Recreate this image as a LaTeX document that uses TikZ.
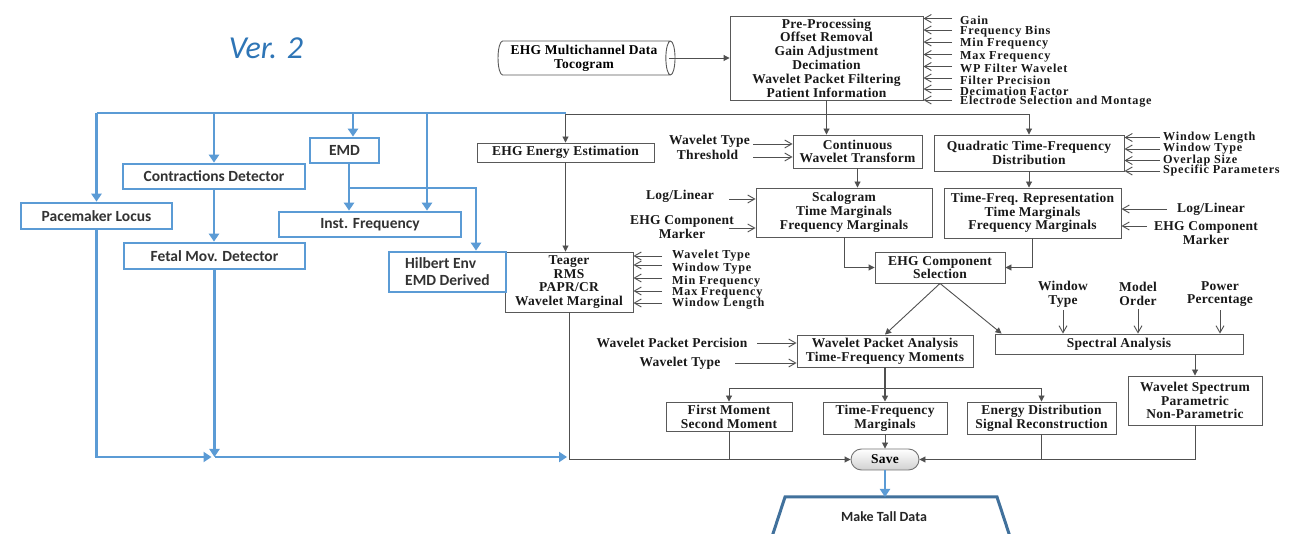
\documentclass[tikz,border=0pt]{standalone}
\usepackage{fontspec}
\newfontfamily\tnrfam{Liberation Serif}[LetterSpace=2]
\newfontfamily\tnrwide{Liberation Serif}[LetterSpace=6]
\newfontfamily\calfam{Carlito}
\usetikzlibrary{arrows.meta,shapes.geometric,shapes.misc}
\definecolor{bl}{HTML}{5B9BD5}
\definecolor{bld}{HTML}{41719C}
\definecolor{vercol}{HTML}{2E75B6}
\definecolor{ln}{HTML}{505050}
\newcommand\gfont{\tnrfam\bfseries\fontsize{13.5}{13.8}\selectfont}
\newcommand\sfontg{\tnrwide\bfseries\fontsize{12.2}{13}\selectfont}
\newcommand\bfontb{\calfam\bfseries\fontsize{15.5}{17}\selectfont}
\begin{document}
\begin{tikzpicture}[x=1pt,y=-1pt,
 gbox/.style={draw=black!65, line width=0.9pt, fill=white, align=center, inner sep=0pt, font=\gfont, text=black!90},
 bbox/.style={draw=bl, line width=2.6pt, fill=white, align=center, inner sep=0pt, font=\bfontb, text=black!80},
 lab/.style={inner sep=0pt, font=\gfont, align=center, text=black!90},
 slab/.style={lab, font=\sfontg},
 con/.style={draw=ln, line width=0.9pt},
 arr/.style={con, -{Triangle[length=6pt,width=6pt]}},
 inarr/.style={con, -{Straight Barb[length=7pt,width=8pt]}},
 bcon/.style={draw=bl, line width=2.6pt},
 barr/.style={bcon, -{Triangle[length=8pt,width=10pt]}},
]
\useasboundingbox (0,0) rectangle (1294,534);
\clip (0,0) rectangle (1294,534);
\fill[white] (0,0) rectangle (1294,534);

\node[font=\calfam\itshape\fontsize{32}{36}\selectfont, text=vercol, inner sep=0pt] (ver) at (266,48) {Ver. 2};

% ---------- processing chain ----------
\node[cylinder, draw=black!65, line width=0.9pt, fill=white, shape aspect=0.35, minimum width=34, minimum height=177, font=\gfont, align=center, inner sep=0pt] (cyl) at (584,58) {EHG Multichannel Data\\Tocogram};
\node[gbox, minimum width=193, minimum height=84] (pre) at (826.5,58) {Pre-Processing\\Offset Removal\\Gain Adjustment\\Decimation\\Wavelet Packet Filtering\\Patient Information};
\node[gbox, minimum width=177, minimum height=19] (eee) at (565.5,152.5) {EHG Energy Estimation};
\node[gbox, minimum width=129, minimum height=33] (cwt) at (857.5,151.5) {Continuous\\Wavelet Transform};
\node[gbox, minimum width=190, minimum height=36] (qtf) at (1029,153) {Quadratic Time-Frequency\\Distribution};
\node[gbox, minimum width=176, minimum height=49] (scal) at (844,212.5) {Scalogram\\Time Marginals\\Frequency Marginals};
\node[gbox, minimum width=177, minimum height=50] (tfr) at (1032.5,213) {Time-Freq. Representation\\Time Marginals\\Frequency Marginals};
\node[gbox, minimum width=130, minimum height=31] (ecs) at (940,267.5) {EHG Component\\Selection};
\node[gbox, minimum width=128, minimum height=60] (teag) at (569,282) {Teager\\RMS\\PAPR/CR\\Wavelet Marginal};
\node[gbox, minimum width=176, minimum height=32] (wpa) at (885,351) {Wavelet Packet Analysis\\Time-Frequency Moments};
\node[gbox, minimum width=248, minimum height=20] (spec) at (1119,344) {Spectral Analysis};
\node[gbox, minimum width=134, minimum height=49] (wsp) at (1195,400.5) {Wavelet Spectrum\\Parametric\\Non-Parametric};
\node[gbox, minimum width=126, minimum height=29] (fm) at (729,416.5) {First Moment\\Second Moment};
\node[gbox, minimum width=124, minimum height=32] (tfm) at (885,418) {Time-Frequency\\Marginals};
\node[gbox, minimum width=149, minimum height=32] (edist) at (1041.5,418) {Energy Distribution\\Signal Reconstruction};
\node[rounded rectangle, draw=black!55, line width=0.9pt, top color=white, bottom color=black!18, minimum width=68, minimum height=21, inner sep=0pt, font=\gfont] (save) at (885,459.5) {Save};

% ---------- parameter labels ----------
\node[slab, anchor=west] (pi1) at (960,20.5) {Gain};
\node[slab, anchor=west] (pi2) at (960,32) {Frequency Bins};
\node[slab, anchor=west] (pi3) at (960,44) {Min Frequency};
\node[slab, anchor=west] (pi4) at (960,56.5) {Max Frequency};
\node[slab, anchor=west] (pi5) at (960,68.5) {WP Filter Wavelet};
\node[slab, anchor=west] (pi6) at (960,80) {Filter Precision};
\node[slab, anchor=west] (pi7) at (960,91) {Decimation Factor};
\node[slab, anchor=west] (pi8) at (960,102) {Electrode Selection and Montage};
\foreach \n in {pi1,pi2,pi3,pi4,pi5,pi6,pi7,pi8}{
  \path ([xshift=-8pt,yshift=2pt]\n.west) coordinate (t);
  \draw[inarr] (t) -- (pre.east |- t);
}

\node[lab] (cw1) at (709.5,141) {Wavelet Type};
\node[lab] (cw2) at (707.5,155) {Threshold};
\coordinate (cw1s) at (753,144);
\coordinate (cw2s) at (753,157);
\draw[inarr] (cw1s) -- (cwt.west |- cw1s);
\draw[inarr] (cw2s) -- (cwt.west |- cw2s);

\node[slab, anchor=west] (qi1) at (1163,137.5) {Window Length};
\node[slab, anchor=west] (qi2) at (1163,149) {Window Type};
\node[slab, anchor=west] (qi3) at (1163,160.5) {Overlap Size};
\node[slab, anchor=west] (qi4) at (1163,171) {Specific Parameters};
\foreach \n in {qi1,qi2,qi3,qi4}{
  \path ([xshift=-3pt]\n.west) coordinate (t);
  \draw[inarr] (t) -- (qtf.east |- t);
}

\node[lab] (sl1) at (680,196) {Log/Linear};
\node[lab] (sl2) at (682,227) {EHG Component\\Marker};
\coordinate (sl1s) at (729,199);
\coordinate (sl2s) at (729,228);
\draw[inarr] (sl1s) -- (scal.west |- sl1s);
\draw[inarr] (sl2s) -- (scal.west |- sl2s);

\node[lab] (tl1) at (1211,209) {Log/Linear};
\node[lab] (tl2) at (1206,233) {EHG Component\\Marker};
\coordinate (tl1s) at (1167,209);
\coordinate (tl2s) at (1147,226);
\draw[inarr] (tl1s) -- (tfr.east |- tl1s);
\draw[inarr] (tl2s) -- (tfr.east |- tl2s);

\node[slab, anchor=west] (ti1) at (672,256) {Wavelet Type};
\node[slab, anchor=west] (ti2) at (672,269) {Window Type};
\node[slab, anchor=west] (ti3) at (672,281.5) {Min Frequency};
\node[slab, anchor=west] (ti4) at (672,293) {Max Frequency};
\node[slab, anchor=west] (ti5) at (672,303.5) {Window Length};
\foreach \n/\dy in {ti1/0,ti2/4,ti3/3.5,ti4/2,ti5/0.5}{
  \path ([xshift=-10pt,yshift=\dy pt]\n.west) coordinate (t);
  \draw[inarr] (t) -- (teag.east |- t);
}

\node[lab] (wl1) at (672,343) {Wavelet Packet Percision};
\node[lab] (wl2) at (680,363) {Wavelet Type};
\coordinate (wl1s) at (757,343);
\coordinate (wl2s) at (735,363);
\draw[inarr] (wl1s) -- (wpa.west |- wl1s);
\draw[inarr] (wl2s) -- (wpa.west |- wl2s);

\node[lab] (sp1) at (1063,294) {Window\\Type};
\node[lab] (sp2) at (1138,294) {Model\\Order};
\node[lab] (sp3) at (1220,294) {Power\\Percentage};
\foreach \n in {sp1,sp2,sp3}{
  \path (\n.south) ++(0,-3pt) coordinate (t);
  \draw[inarr] (t) -- (spec.north -| t);
}

% ---------- flow connectors ----------
\coordinate (bus) at (0,114);
\coordinate (wbr) at (0,388);
\draw[arr] ([xshift=-6pt]cyl.east) -- (pre.west |- cyl.east);
\draw[arr] (pre.south) -- (pre.south |- cwt.north);
\draw[arr] (pre.south |- bus) -| (eee.north);
\draw[arr] (pre.south |- bus) -| (qtf.north);
\draw[arr] (eee.south) -- (eee.south |- teag.north);
\draw[arr] (cwt.south) -- (cwt.south |- scal.north);
\draw[arr] (qtf.south) -- (qtf.south |- tfr.north);
\draw[arr] (scal.south) |- (ecs.west);
\draw[arr] (tfr.south) |- (ecs.east);
\coordinate (specin) at ([xshift=7pt]spec.north west);
\draw[arr] (ecs.south) -- (wpa.north);
\draw[arr] (ecs.south) -- (specin);
\draw[arr, line width=1.6pt] (wpa.south) -- (tfm.north);
\draw[arr] (wpa.south |- wbr) -| (fm.north);
\draw[arr] (wpa.south |- wbr) -| (edist.north);
\draw[arr] (wsp.north |- spec.south) -- (wsp.north);
\draw[arr] (tfm.south) -- (save.north);
\draw[arr] (teag.south) |- (save.west);
\draw[con] (fm.south) -- (fm.south |- save.west);
\draw[arr] (wsp.south) |- (save.east);
\draw[con] (edist.south) -- (edist.south |- save.east);

% ---------- EMD branch ----------
\node[bbox, minimum width=151, minimum height=26] (pace) at (96.5,216) {Pacemaker Locus};
\node[bbox, minimum width=182, minimum height=25] (contr) at (214,176.5) {Contractions Detector};
\node[bbox, minimum width=69, minimum height=25] (emd) at (344.5,150.5) {EMD};
\node[bbox, minimum width=182, minimum height=25] (instf) at (370,224.5) {Inst. Frequency};
\node[bbox, minimum width=181, minimum height=26] (fetal) at (214.5,256) {Fetal Mov. Detector};
\node[bbox, minimum width=117, minimum height=40, align=left] (hilb) at (447.5,272) {Hilbert Env\\EMD Derived};

\coordinate (bbus) at (0,113);
\coordinate (bot) at (0,457);
\coordinate (emdin) at ([xshift=8.5pt]emd.north);
\coordinate (emdout) at ([xshift=4.5pt]emd.south);
\coordinate (instin) at ([xshift=57pt]instf.north);
\coordinate (hilbin) at ([xshift=28.5pt]hilb.north);
\coordinate (brY) at (0,188);
\draw[bcon] (pace.north |- bbus) -- (eee.north |- bbus);
\draw[barr] (pace.north |- bbus) -- (pace.north);
\draw[barr] (contr.north |- bbus) -- (contr.north);
\draw[barr] (emdin |- bbus) -- (emdin);
\draw[barr] (instin |- bbus) -- (instin);
\draw[barr] (emdout) -- (emdout |- instf.north);
\draw[barr] (emdout |- brY) -| (hilbin);
\draw[barr] (contr.south) -- (contr.south |- fetal.north);
\draw[barr] (pace.south) |- ([xshift=-3pt]fetal.south |- bot);
\draw[barr] (fetal.south) -- (fetal.south |- bot);
\draw[barr] (fetal.south |- bot) -- ([xshift=-2pt]teag.south |- bot);

% ---------- output ----------
\node[font=\calfam\bfseries\fontsize{14}{16}\selectfont, text=black!85, inner sep=0pt] (talltxt) at (884,517) {Make Tall Data};
\coordinate (tallL) at (785,497);
\coordinate (tallR) at (997,497);
\coordinate (talltop) at (891,497);
\draw[draw=bld, line width=3pt, line join=miter] ([shift={(-18,55)}]tallL) -- (tallL) -- (tallR) -- ([shift={(18,55)}]tallR);
\draw[barr] (save.south) -- (save.south |- talltop);
\end{tikzpicture}
\end{document}
